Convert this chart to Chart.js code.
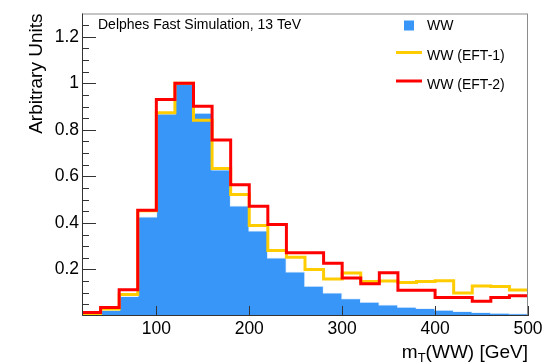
<!DOCTYPE html>
<html>
<head>
<meta charset="utf-8">
<script src="https://cdn.jsdelivr.net/npm/chart.js@4.4.1/dist/chart.umd.min.js"></script>
<style>
  html, body { margin: 0; padding: 0; background: #fff; }
</style>
</head>
<body>
<canvas id="grafica" width="552" height="364"></canvas>
<script>
// Bordes de los bins de m_T(WW) en GeV (bins de 20 GeV)
const binEdges = [20, 40, 60, 80, 100, 120, 140, 160, 180, 200, 220, 240, 260,
                  280, 300, 320, 340, 360, 380, 400, 420, 440, 460, 480, 500];
// Un valor por bin (24 bins), normalizados al máximo
const valoresWW = [0.003, 0.025, 0.085, 0.427, 0.869, 1.0, 0.872, 0.629, 0.474, 0.366, 0.25, 0.19,
                   0.129, 0.1, 0.075, 0.06, 0.048, 0.039, 0.033, 0.026, 0.02, 0.016, 0.013, 0.011];
const valoresEFT1 = [0.01, 0.03, 0.092, 0.452, 0.873, 1.0, 0.841, 0.634, 0.522, 0.389, 0.281, 0.252,
                     0.2, 0.159, 0.185, 0.148, 0.15, 0.144, 0.148, 0.152, 0.099, 0.129, 0.127, 0.112];
const valoresEFT2 = [0.015, 0.036, 0.113, 0.454, 0.93, 1.0, 0.901, 0.756, 0.564, 0.472, 0.393, 0.272,
                     0.272, 0.227, 0.163, 0.139, 0.186, 0.111, 0.111, 0.079, 0.079, 0.063, 0.079, 0.087];
const ticksX = [100, 200, 300, 400, 500];
const ticksY = [0.2, 0.4, 0.6, 0.8, 1, 1.2];

const fuente = "'Liberation Sans', Arial, Helvetica, sans-serif";
Chart.defaults.font.family = fuente;

// Un punto en el borde izquierdo de cada bin, más el borde final
function puntos(valores) {
    const pts = valores.map((v, i) => ({ x: binEdges[i], y: v }));
    pts.push({ x: binEdges[binEdges.length - 1], y: valores[valores.length - 1] });
    return pts;
}

// Marco, marcas de los ejes hacia dentro, título del eje x, texto y leyenda al estilo ROOT
const marcoRoot = {
    id: 'marcoRoot',
    afterDatasetsDraw(chart) {
        const { ctx, chartArea: a, scales: { x, y } } = chart;
        ctx.save();
        ctx.lineWidth = 1;
        ctx.strokeStyle = '#8c8c8c';
        ctx.strokeRect(a.left + 0.5, a.top + 0.5, a.right - a.left - 1, a.bottom - a.top - 1);
        ctx.strokeStyle = '#333';
        ctx.beginPath();
        ctx.moveTo(a.left + 0.5, a.top);
        ctx.lineTo(a.left + 0.5, a.bottom - 0.5);
        ctx.lineTo(a.right, a.bottom - 0.5);
        // marcas del eje y: mayores cada 0.2, menores cada 0.05
        for (let k = 1; k <= 25; k++) {
            const py = Math.round(y.getPixelForValue(k * 0.05)) + 0.5;
            const largo = k % 4 === 0 ? 14 : 7;
            ctx.moveTo(a.left, py);
            ctx.lineTo(a.left + largo, py);
        }
        ticksX.forEach(v => {
            const px = Math.round(x.getPixelForValue(v)) + 0.5;
            ctx.moveTo(px, a.bottom);
            ctx.lineTo(px, a.bottom - 10);
        });
        ctx.stroke();

        ctx.fillStyle = '#000';
        // título del eje x con subíndice
        const base = 358;
        ctx.font = '19px ' + fuente;
        const t1 = 'm', t3 = '(WW) [GeV]';
        const w1 = ctx.measureText(t1).width, w3 = ctx.measureText(t3).width;
        ctx.font = '13px ' + fuente;
        const w2 = ctx.measureText('T').width;
        let x0 = a.right - (w1 + w2 + w3);
        ctx.textBaseline = 'alphabetic';
        ctx.textAlign = 'left';
        ctx.font = '19px ' + fuente;
        ctx.fillText(t1, x0, base);
        ctx.font = '13px ' + fuente;
        ctx.fillText('T', x0 + w1, base + 4);
        ctx.font = '19px ' + fuente;
        ctx.fillText(t3, x0 + w1 + w2, base);

        // texto de la simulación
        ctx.font = '14px ' + fuente;
        ctx.fillText('Delphes Fast Simulation, 13 TeV', 98, 29);

        // leyenda
        ctx.font = '14px ' + fuente;
        chart.data.datasets.forEach((ds, i) => {
            const yc = [25.5, 52.5, 81][i];
            if (ds.fill) {
                ctx.fillStyle = ds.backgroundColor;
                ctx.fillRect(404, 20.5, 10, 10);
            } else {
                ctx.strokeStyle = ds.borderColor;
                ctx.lineWidth = 3;
                ctx.beginPath();
                ctx.moveTo(396, yc);
                ctx.lineTo(422, yc);
                ctx.stroke();
            }
            ctx.fillStyle = '#000';
            ctx.fillText(ds.label, 427, [30, 60, 89][i]);
        });
        ctx.restore();
    }
};

new Chart(document.querySelector('#grafica'), {
    type: 'line',
    data: {
        datasets: [
            {
                label: 'WW',
                data: puntos(valoresWW),
                stepped: 'before',
                fill: 'origin',
                backgroundColor: '#3896f8',
                borderColor: 'rgba(255,255,255,0.85)',
                borderWidth: 1.5,
                pointRadius: 0,
                order: 3,
            },
            {
                label: 'WW (EFT-1)',
                data: puntos(valoresEFT1),
                stepped: 'before',
                fill: false,
                borderColor: '#ffcc00',
                borderWidth: 3,
                pointRadius: 0,
                order: 2,
            },
            {
                label: 'WW (EFT-2)',
                data: puntos(valoresEFT2),
                stepped: 'before',
                fill: false,
                borderColor: '#ff0000',
                borderWidth: 3,
                pointRadius: 0,
                order: 1,
            },
        ]
    },
    options: {
        responsive: false,
        animation: false,
        layout: { padding: { top: 9, right: 24, left: 0, bottom: 0 } },
        plugins: { legend: { display: false }, tooltip: { enabled: false } },
        scales: {
            x: {
                type: 'linear',
                min: 20,
                max: 500,
                afterBuildTicks: s => { s.ticks = ticksX.map(v => ({ value: v })); },
                afterFit: s => { s.height = 48; },
                grid: { display: false, drawTicks: false },
                border: { display: false },
                ticks: { font: { size: 17.5 }, color: '#000', padding: 3, maxRotation: 0 },
            },
            y: {
                min: 0,
                max: 1.3,
                afterBuildTicks: s => { s.ticks = ticksY.map(v => ({ value: v })); },
                afterFit: s => { s.width = 82; },
                grid: { display: false, drawTicks: false },
                border: { display: false },
                ticks: { font: { size: 17.5 }, color: '#000', padding: 3, callback: v => String(v) },
                title: {
                    display: true,
                    text: 'Arbitrary Units',
                    align: 'end',
                    color: '#000',
                    font: { size: 19 },
                    padding: { top: 25 },
                },
            },
        },
    },
    plugins: [marcoRoot],
});
</script>
</body>
</html>
